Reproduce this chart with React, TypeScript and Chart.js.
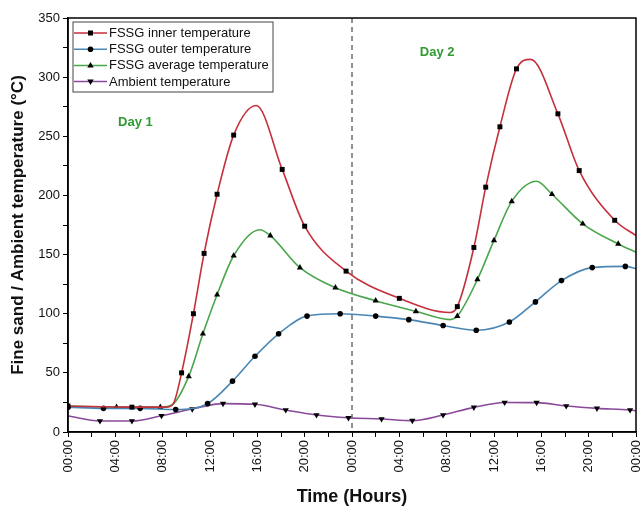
import React, { useEffect, useRef } from 'react';
import { Chart, registerables } from 'chart.js';

Chart.register(...registerables);

// ---------- data (hours from start, °C); marker flags: 1 = draw symbol ----------
const innerHours = [0, 5.4, 8.3, 8.9, 9.6, 10.6, 11.5, 12.6, 14.0, 15.9, 18.1, 20.0, 23.5, 28.0, 32.3, 32.9, 34.3, 35.3, 36.5, 37.9, 39.1, 41.4, 43.2, 46.2, 48];
const innerValues = [22, 21, 21, 24, 50, 100, 151, 201, 251, 276, 222, 174, 136, 113, 101, 106, 156, 207, 258, 307, 315, 269, 221, 179, 166];
const innerMarkers = [1, 1, 0, 0, 1, 1, 1, 1, 1, 0, 1, 1, 1, 1, 0, 1, 1, 1, 1, 1, 0, 1, 1, 1, 0];

const outerHours = [0, 3.0, 6.1, 9.1, 11.8, 13.9, 15.8, 17.8, 20.2, 23.0, 26.0, 28.8, 31.7, 34.5, 37.3, 39.5, 41.7, 44.3, 47.1, 48];
const outerValues = [21, 20, 20, 19, 24, 43, 64, 83, 98, 100, 98, 95, 90, 86, 93, 110, 128, 139, 140, 138];
const outerMarkers = [1, 1, 1, 1, 1, 1, 1, 1, 1, 1, 1, 1, 1, 1, 1, 1, 1, 1, 1, 0];

const avgHours = [0, 4.1, 7.8, 8.8, 10.2, 11.4, 12.6, 14.0, 16.2, 17.1, 19.6, 22.6, 26.0, 29.4, 32.3, 32.9, 34.6, 36.0, 37.5, 39.6, 40.9, 43.5, 46.5, 48];
const avgValues = [22, 21, 21, 23, 47, 83, 116, 149, 171, 166, 139, 122, 111, 102, 95, 98, 129, 162, 195, 212, 201, 176, 159, 152];
const avgMarkers = [0, 1, 1, 0, 1, 1, 1, 1, 0, 1, 1, 1, 1, 1, 0, 1, 1, 1, 1, 0, 1, 1, 1, 0];

const ambHours = [0, 2.7, 5.4, 7.9, 10.5, 13.1, 15.8, 18.4, 21.0, 23.7, 26.5, 29.1, 31.7, 34.3, 36.9, 39.6, 42.1, 44.7, 47.5, 48];
const ambValues = [13.5, 9.3, 9.3, 13.8, 19.4, 24, 23.4, 18.6, 14.4, 12, 11, 9.6, 14.4, 20.8, 25, 24.8, 22, 20, 18.6, 18];
const ambMarkers = [0, 1, 1, 1, 1, 1, 1, 1, 1, 1, 1, 1, 1, 1, 1, 1, 1, 1, 1, 0];

const seriesNames = ['FSSG inner temperature', 'FSSG outer temperature', 'FSSG average temperature', 'Ambient temperature'];
const seriesColors = ['#c4303c', '#4a86b4', '#4aa64a', '#8a4a9a'];
const seriesShapes = ['rect', 'circle', 'triangle', 'triangleDown'];

const xMin = 0, xMax = 48, xStep = 2, xLabelEvery = 4;
const yMin = 0, yMax = 350, yStep = 25, yLabelEvery = 50;
const dayDivider = 24;
const dayLabels = [
  { text: 'Day 1', x: 5.7, y: 262 },
  { text: 'Day 2', x: 31.2, y: 321 },
];

const FONT = '"Liberation Sans", Arial, Helvetica, sans-serif';

function drawMarker(ctx: CanvasRenderingContext2D, shape: string, x: number, y: number) {
  ctx.fillStyle = '#000';
  ctx.beginPath();
  if (shape === 'rect') {
    ctx.rect(x - 2.5, y - 2.5, 5, 5);
  } else if (shape === 'circle') {
    ctx.arc(x, y, 2.8, 0, Math.PI * 2);
  } else if (shape === 'triangle') {
    ctx.moveTo(x, y - 3.5);
    ctx.lineTo(x + 3.2, y + 2.2);
    ctx.lineTo(x - 3.2, y + 2.2);
    ctx.closePath();
  } else {
    ctx.moveTo(x, y + 3.5);
    ctx.lineTo(x + 3.2, y - 2.2);
    ctx.lineTo(x - 3.2, y - 2.2);
    ctx.closePath();
  }
  ctx.fill();
}

const overlayPlugin = {
  id: 'overlay',
  beforeDatasetsDraw(chart: any) {
    const { ctx, chartArea, scales } = chart;
    const px = scales.x.getPixelForValue(dayDivider);
    ctx.save();
    ctx.setLineDash([5, 4]);
    ctx.strokeStyle = '#222';
    ctx.lineWidth = 1;
    ctx.beginPath();
    ctx.moveTo(px, chartArea.top);
    ctx.lineTo(px, chartArea.bottom);
    ctx.stroke();
    ctx.restore();
  },
  afterDraw(chart: any) {
    const { ctx, chartArea, scales } = chart;
    ctx.save();
    // frame
    ctx.strokeStyle = '#000';
    ctx.lineWidth = 1.5;
    ctx.strokeRect(chartArea.left, chartArea.top, chartArea.right - chartArea.left, chartArea.bottom - chartArea.top);
    // day labels
    ctx.fillStyle = '#2f9a2f';
    ctx.font = 'bold 13px ' + FONT;
    ctx.textAlign = 'center';
    ctx.textBaseline = 'middle';
    for (const d of dayLabels) {
      ctx.fillText(d.text, scales.x.getPixelForValue(d.x), scales.y.getPixelForValue(d.y));
    }
    // legend
    const lx = chartArea.left + 5;
    const ly = chartArea.top + 4;
    const rowH = 16.2;
    const boxW = 200;
    const boxH = 70;
    ctx.fillStyle = '#fff';
    ctx.fillRect(lx, ly, boxW, boxH);
    ctx.strokeStyle = '#444';
    ctx.lineWidth = 1;
    ctx.strokeRect(lx, ly, boxW, boxH);
    ctx.font = '13px ' + FONT;
    ctx.textAlign = 'left';
    ctx.textBaseline = 'middle';
    seriesNames.forEach((name, i) => {
      const cy = ly + 11 + i * rowH;
      ctx.strokeStyle = seriesColors[i];
      ctx.lineWidth = 1.5;
      ctx.beginPath();
      ctx.moveTo(lx + 1, cy);
      ctx.lineTo(lx + 34, cy);
      ctx.stroke();
      drawMarker(ctx, seriesShapes[i], lx + 17.5, cy);
      ctx.fillStyle = '#111';
      ctx.fillText(name, lx + 36, cy + 0.5);
    });
    ctx.restore();
  },
};

function makeDataset(i: number, hours: number[], values: number[], markers: number[]) {
  const shape = seriesShapes[i];
  const ptStyle = shape === 'triangleDown' ? 'triangle' : shape;
  const radius = shape === 'rect' ? 3.5 : shape === 'circle' ? 2.8 : 3.6;
  return {
    label: seriesNames[i],
    data: hours.map((h, k) => ({ x: h, y: values[k] })),
    borderColor: seriesColors[i],
    backgroundColor: seriesColors[i],
    borderWidth: 1.6,
    cubicInterpolationMode: 'monotone' as const,
    pointStyle: ptStyle,
    pointRotation: shape === 'triangleDown' ? 180 : 0,
    pointRadius: markers.map((m) => (m ? radius : 0)),
    pointHoverRadius: 0,
    pointBackgroundColor: '#000',
    pointBorderColor: '#000',
    pointBorderWidth: 0,
  };
}

function formatHour(v: number) {
  const h = ((v % 24) + 24) % 24;
  return (h < 10 ? '0' + h : String(h)) + ':00';
}

export default function App() {
  const canvasRef = useRef<HTMLCanvasElement | null>(null);

  useEffect(() => {
    document.body.style.margin = '0';
    const canvas = canvasRef.current;
    if (!canvas) return;
    const chart = new Chart(canvas, {
      type: 'line',
      data: {
        datasets: [
          makeDataset(0, innerHours, innerValues, innerMarkers),
          makeDataset(1, outerHours, outerValues, outerMarkers),
          makeDataset(2, avgHours, avgValues, avgMarkers),
          makeDataset(3, ambHours, ambValues, ambMarkers),
        ],
      },
      options: {
        responsive: false,
        animation: false,
        layout: { padding: { top: 18, right: 6, left: 0, bottom: 0 } },
        plugins: { legend: { display: false }, tooltip: { enabled: false } },
        scales: {
          x: {
            type: 'linear',
            min: xMin,
            max: xMax,
            border: { display: true, color: '#000', width: 1.5 },
            grid: { drawOnChartArea: false, drawTicks: true, tickLength: 5, color: '#000', lineWidth: 1 },
            ticks: {
              stepSize: xStep,
              autoSkip: false,
              maxRotation: 90,
              minRotation: 90,
              color: '#111',
              padding: 3,
              font: { family: FONT, size: 13 },
              callback: (v: any) => (Number(v) % xLabelEvery === 0 ? formatHour(Number(v)) : ''),
            },
            title: {
              display: true,
              text: 'Time (Hours)',
              color: '#111',
              font: { family: FONT, size: 18, weight: 'bold' },
              padding: { top: 0, bottom: 0 },
            },
            afterFit: (scale: any) => {
              scale.height = 76;
              scale.paddingLeft = 0;
              scale.paddingRight = 0;
            },
          },
          y: {
            type: 'linear',
            min: yMin,
            max: yMax,
            border: { display: true, color: '#000', width: 1.5 },
            grid: { drawOnChartArea: false, drawTicks: true, tickLength: 5, color: '#000', lineWidth: 1 },
            ticks: {
              stepSize: yStep,
              autoSkip: false,
              color: '#111',
              padding: 3,
              font: { family: FONT, size: 13 },
              callback: (v: any) => (Number(v) % yLabelEvery === 0 ? String(v) : ''),
            },
            title: {
              display: true,
              text: 'Fine sand / Ambient temperature (°C)',
              color: '#111',
              font: { family: FONT, size: 17, weight: 'bold' },
              padding: { top: 8, bottom: 0 },
            },
            afterFit: (scale: any) => {
              scale.width = 68;
              scale.paddingTop = 0;
              scale.paddingBottom = 0;
            },
          },
        },
      },
      plugins: [overlayPlugin],
    } as any);
    return () => chart.destroy();
  }, []);

  return (
    <div style={{ width: 642, height: 508, background: '#fff' }}>
      <canvas ref={canvasRef} width={642} height={508} style={{ display: 'block' }} />
    </div>
  );
}
